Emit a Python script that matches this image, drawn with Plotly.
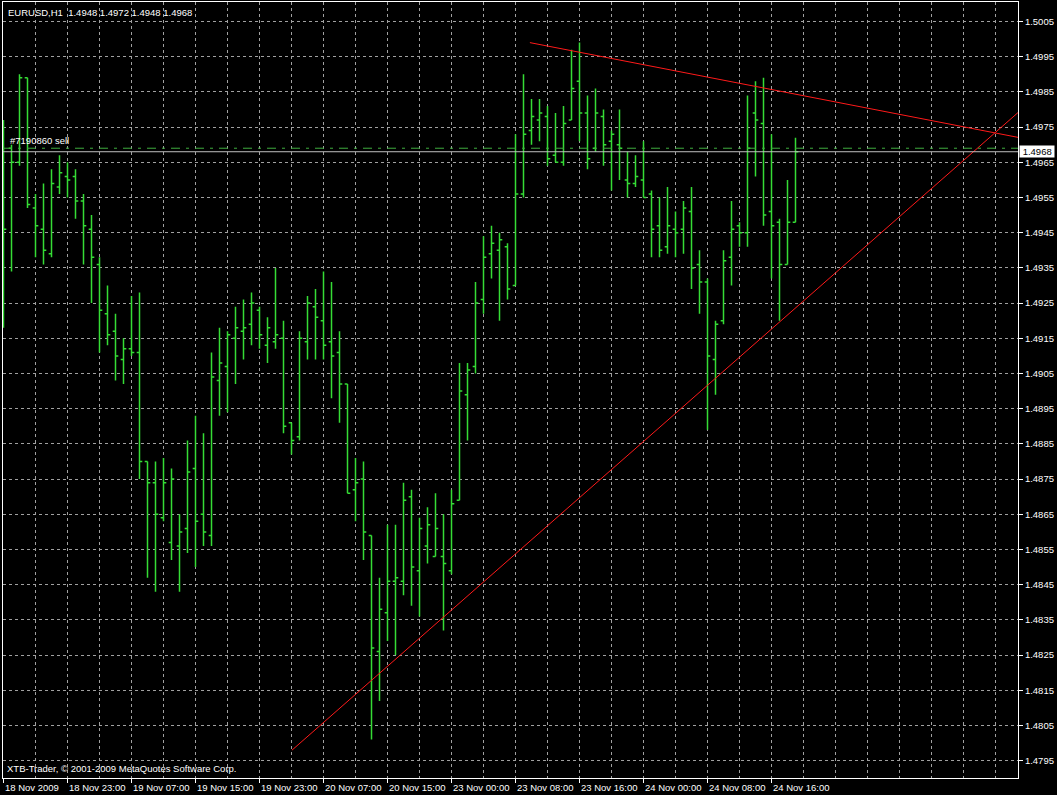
import plotly.graph_objects as go

# ---------------- data ----------------
bar_index = list(range(100))

opens = [1.4960, 1.4969, 1.4965, 1.4989, 1.4952, 1.4946, 1.4939, 1.4958, 1.4961, 1.4961,
         1.4954, 1.4946, 1.4936, 1.4922, 1.4917, 1.4909, 1.4912, 1.4911, 1.4880, 1.4874,
         1.4864, 1.4857, 1.4856, 1.4861, 1.4878, 1.4865, 1.4859, 1.4903, 1.4907, 1.4915,
         1.4917, 1.4919, 1.4923, 1.4913, 1.4914, 1.4915, 1.4891, 1.4887, 1.4914, 1.4924,
         1.4920, 1.4914, 1.4911, 1.4902, 1.4872, 1.4875, 1.4859, 1.4826, 1.4837, 1.4846,
         1.4846, 1.4870, 1.4849, 1.4856, 1.4853, 1.4853, 1.4849, 1.4869, 1.4899, 1.4907,
         1.4926, 1.4939, 1.4940, 1.4941, 1.4930, 1.4956, 1.4974, 1.4977, 1.4978, 1.4967,
         1.4965, 1.4977, 1.4988, 1.4979, 1.4969, 1.4978, 1.4971, 1.4970, 1.4960, 1.4959,
         1.4960, 1.4956, 1.4947, 1.4941, 1.4946, 1.4946, 1.4951, 1.4936, 1.4931, 1.4909,
         1.4920, 1.4938, 1.4947, 1.4945, 1.4979, 1.4976, 1.4951, 1.4948, 1.4936, 1.4948]

highs = [1.4977, 1.4970, 1.4990, 1.4989, 1.4956, 1.4959, 1.4963, 1.4967, 1.4965, 1.4963,
         1.4956, 1.4950, 1.4938, 1.4930, 1.4922, 1.4915, 1.4927, 1.4928, 1.4880, 1.4880,
         1.4881, 1.4878, 1.4865, 1.4886, 1.4893, 1.4888, 1.4911, 1.4918, 1.4917, 1.4924,
         1.4926, 1.4928, 1.4924, 1.4921, 1.4935, 1.4920, 1.4891, 1.4917, 1.4927, 1.4929,
         1.4934, 1.4931, 1.4917, 1.4902, 1.4881, 1.4880, 1.4859, 1.4847, 1.4862, 1.4862,
         1.4874, 1.4872, 1.4864, 1.4867, 1.4871, 1.4865, 1.4872, 1.4908, 1.4908, 1.4931,
         1.4944, 1.4947, 1.4945, 1.4942, 1.4973, 1.4990, 1.4983, 1.4983, 1.4981, 1.4979,
         1.4981, 1.4997, 1.4999, 1.4984, 1.4986, 1.4980, 1.4974, 1.4980, 1.4968, 1.4967,
         1.4971, 1.4957, 1.4955, 1.4958, 1.4951, 1.4954, 1.4958, 1.4940, 1.4932, 1.4920,
         1.4940, 1.4954, 1.4948, 1.4984, 1.4988, 1.4989, 1.4973, 1.4949, 1.4960, 1.4972]

lows = [1.4918, 1.4934, 1.4964, 1.4952, 1.4938, 1.4936, 1.4938, 1.4956, 1.4955, 1.4949,
        1.4936, 1.4925, 1.4911, 1.4913, 1.4903, 1.4902, 1.4910, 1.4875, 1.4847, 1.4843,
        1.4863, 1.4852, 1.4843, 1.4854, 1.4850, 1.4856, 1.4856, 1.4893, 1.4894, 1.4902,
        1.4909, 1.4913, 1.4912, 1.4908, 1.4912, 1.4888, 1.4882, 1.4886, 1.4909, 1.4909,
        1.4909, 1.4898, 1.4891, 1.4871, 1.4863, 1.4852, 1.4801, 1.4812, 1.4829, 1.4825,
        1.4842, 1.4839, 1.4836, 1.4851, 1.4853, 1.4832, 1.4848, 1.4869, 1.4886, 1.4905,
        1.4922, 1.4932, 1.4920, 1.4926, 1.4930, 1.4955, 1.4970, 1.4971, 1.4964, 1.4965,
        1.4964, 1.4977, 1.4971, 1.4963, 1.4968, 1.4964, 1.4957, 1.4960, 1.4955, 1.4958,
        1.4955, 1.4938, 1.4938, 1.4939, 1.4938, 1.4939, 1.4929, 1.4922, 1.4889, 1.4899,
        1.4919, 1.4930, 1.4941, 1.4941, 1.4961, 1.4947, 1.4932, 1.4920, 1.4936, 1.4948]

closes = [1.4946, 1.4965, 1.4989, 1.4953, 1.4947, 1.4940, 1.4959, 1.4962, 1.4960, 1.4954,
          1.4947, 1.4938, 1.4923, 1.4916, 1.4910, 1.4912, 1.4911, 1.4880, 1.4874, 1.4865,
          1.4874, 1.4875, 1.4860, 1.4877, 1.4863, 1.4860, 1.4904, 1.4908, 1.4916, 1.4918,
          1.4918, 1.4925, 1.4916, 1.4918, 1.4916, 1.4890, 1.4886, 1.4915, 1.4925, 1.4921,
          1.4913, 1.4910, 1.4902, 1.4871, 1.4874, 1.4860, 1.4827, 1.4838, 1.4846, 1.4847,
          1.4869, 1.4850, 1.4861, 1.4862, 1.4861, 1.4851, 1.4868, 1.4900, 1.4906, 1.4925,
          1.4938, 1.4942, 1.4943, 1.4929, 1.4956, 1.4973, 1.4978, 1.4979, 1.4966, 1.4965,
          1.4976, 1.4986, 1.4979, 1.4966, 1.4979, 1.4970, 1.4973, 1.4969, 1.4959, 1.4961,
          1.4955, 1.4946, 1.4940, 1.4947, 1.4945, 1.4952, 1.4935, 1.4931, 1.4910, 1.4919,
          1.4937, 1.4946, 1.4945, 1.4969, 1.4977, 1.4950, 1.4947, 1.4936, 1.4948, 1.4968]

date_label_bars = [0, 8, 16, 24, 32, 40, 48, 56, 64, 72, 80, 88, 96]
date_labels = ["18 Nov 2009", "18 Nov 23:00", "19 Nov 07:00", "19 Nov 15:00",
               "19 Nov 23:00", "20 Nov 07:00", "20 Nov 15:00", "23 Nov 00:00",
               "23 Nov 08:00", "23 Nov 16:00", "24 Nov 00:00", "24 Nov 08:00",
               "24 Nov 16:00"]
minor_grid_bars = [4, 12, 20, 28, 36, 44, 52, 60, 68, 76, 84, 92, 100, 108, 116, 124]
extra_grid_bars = [104, 112, 120]

price_ticks = [1.4795, 1.4805, 1.4815, 1.4825, 1.4835, 1.4845, 1.4855, 1.4865,
               1.4875, 1.4885, 1.4895, 1.4905, 1.4915, 1.4925, 1.4935, 1.4945,
               1.4955, 1.4965, 1.4975, 1.4985, 1.4995, 1.5005]

upper_trend_x = [65.8, 127.0]
upper_trend_y = [1.49990, 1.49720]
lower_trend_x = [36.06, 127.0]
lower_trend_y = [1.47980, 1.49795]

order_price = 1.4969
bid_price = 1.4968
order_text = "#7190860 sell"
title_text = "EURUSD,H1\u00a0\u00a01.4948 1.4972 1.4948 1.4968"
copyright_text = "XTB-Trader, \u00a9 2001-2009 MetaQuotes Software Corp."

# ---------------- style ----------------
BAR_GREEN = "#35dc35"
GRID = "#a0a0a0"
FONT = "Liberation Sans"
FS = 9.5

fig = go.Figure()

fig.add_trace(go.Ohlc(
    x=bar_index, open=opens, high=highs, low=lows, close=closes,
    increasing=dict(line=dict(color=BAR_GREEN, width=1.5)),
    decreasing=dict(line=dict(color=BAR_GREEN, width=1.5)),
    tickwidth=0.35, hoverinfo="skip", showlegend=False,
))

fig.add_trace(go.Scatter(x=upper_trend_x, y=upper_trend_y, mode="lines",
                         line=dict(color="#ff1a1a", width=1), hoverinfo="skip",
                         showlegend=False))
fig.add_trace(go.Scatter(x=lower_trend_x, y=lower_trend_y, mode="lines",
                         line=dict(color="#ff1a1a", width=1), hoverinfo="skip",
                         showlegend=False))

# order line and bid line
fig.add_shape(type="line", xref="paper", x0=0, x1=1, yref="y",
              y0=order_price, y1=order_price,
              line=dict(color="#3fae3f", width=1, dash="9px,6px,3px,6px"))
fig.add_shape(type="line", xref="paper", x0=0, x1=1, yref="y",
              y0=bid_price, y1=bid_price,
              line=dict(color="#c0c0c0", width=1))

annotations = []
for b, t in zip(date_label_bars, date_labels):
    annotations.append(dict(x=b, xref="x", y=0, yref="paper", text=t,
                            xanchor="left", yanchor="top", yshift=-2, xshift=-1,
                            showarrow=False,
                            font=dict(family=FONT, size=FS, color="white")))
annotations.append(dict(x=0, xref="paper", y=1, yref="paper", text=title_text,
                        xanchor="left", yanchor="top", xshift=3, yshift=-3,
                        showarrow=False, font=dict(family=FONT, size=FS, color="white")))
annotations.append(dict(x=0, xref="paper", y=0, yref="paper", text=copyright_text,
                        xanchor="left", yanchor="bottom", xshift=2, yshift=2,
                        showarrow=False, font=dict(family=FONT, size=FS, color="white")))
annotations.append(dict(x=0, xref="paper", y=order_price, yref="y", text=order_text,
                        xanchor="left", yanchor="bottom", xshift=5, yshift=0,
                        showarrow=False, font=dict(family=FONT, size=FS, color="white")))
annotations.append(dict(x=1, xref="paper", y=bid_price, yref="y",
                        text="\u00a0" + f"{bid_price:.4f}" + "\u00a0",
                        xanchor="left", yanchor="middle", xshift=1,
                        showarrow=False, bgcolor="white", borderpad=0,
                        font=dict(family=FONT, size=FS, color="black")))

fig.update_layout(
    width=1057, height=795,
    margin=dict(l=3, r=39, t=2, b=17, pad=0),
    paper_bgcolor="black", plot_bgcolor="black",
    showlegend=False,
    annotations=annotations,
    xaxis=dict(
        range=[-0.0625, 126.8125],
        rangeslider=dict(visible=False),
        tickvals=date_label_bars,
        showticklabels=False,
        ticks="outside", ticklen=4, tickcolor="white", tickwidth=1,
        showgrid=True, gridcolor=GRID, gridwidth=1, griddash="3px,3px",
        minor=dict(tickvals=minor_grid_bars + extra_grid_bars, showgrid=True,
                   gridcolor=GRID, gridwidth=1, griddash="3px,3px", ticks=""),
        showline=True, linecolor="white", linewidth=1, mirror=True,
        zeroline=False, fixedrange=True,
    ),
    yaxis=dict(
        side="right",
        range=[1.479009, 1.501054],
        tickvals=price_ticks,
        ticktext=[f"{v:.4f}" for v in price_ticks],
        ticks="outside", ticklen=4, tickcolor="white", tickwidth=1,
        tickfont=dict(family=FONT, size=FS, color="white"),
        showgrid=True, gridcolor=GRID, gridwidth=1, griddash="3px,3px",
        showline=True, linecolor="white", linewidth=1, mirror=True,
        zeroline=False, fixedrange=True,
    ),
)

post = (
    "document.body.style.margin='0';"
    "document.body.style.background='black';"
)

fig.write_html("out.html", config={"displayModeBar": False}, post_script=post)
